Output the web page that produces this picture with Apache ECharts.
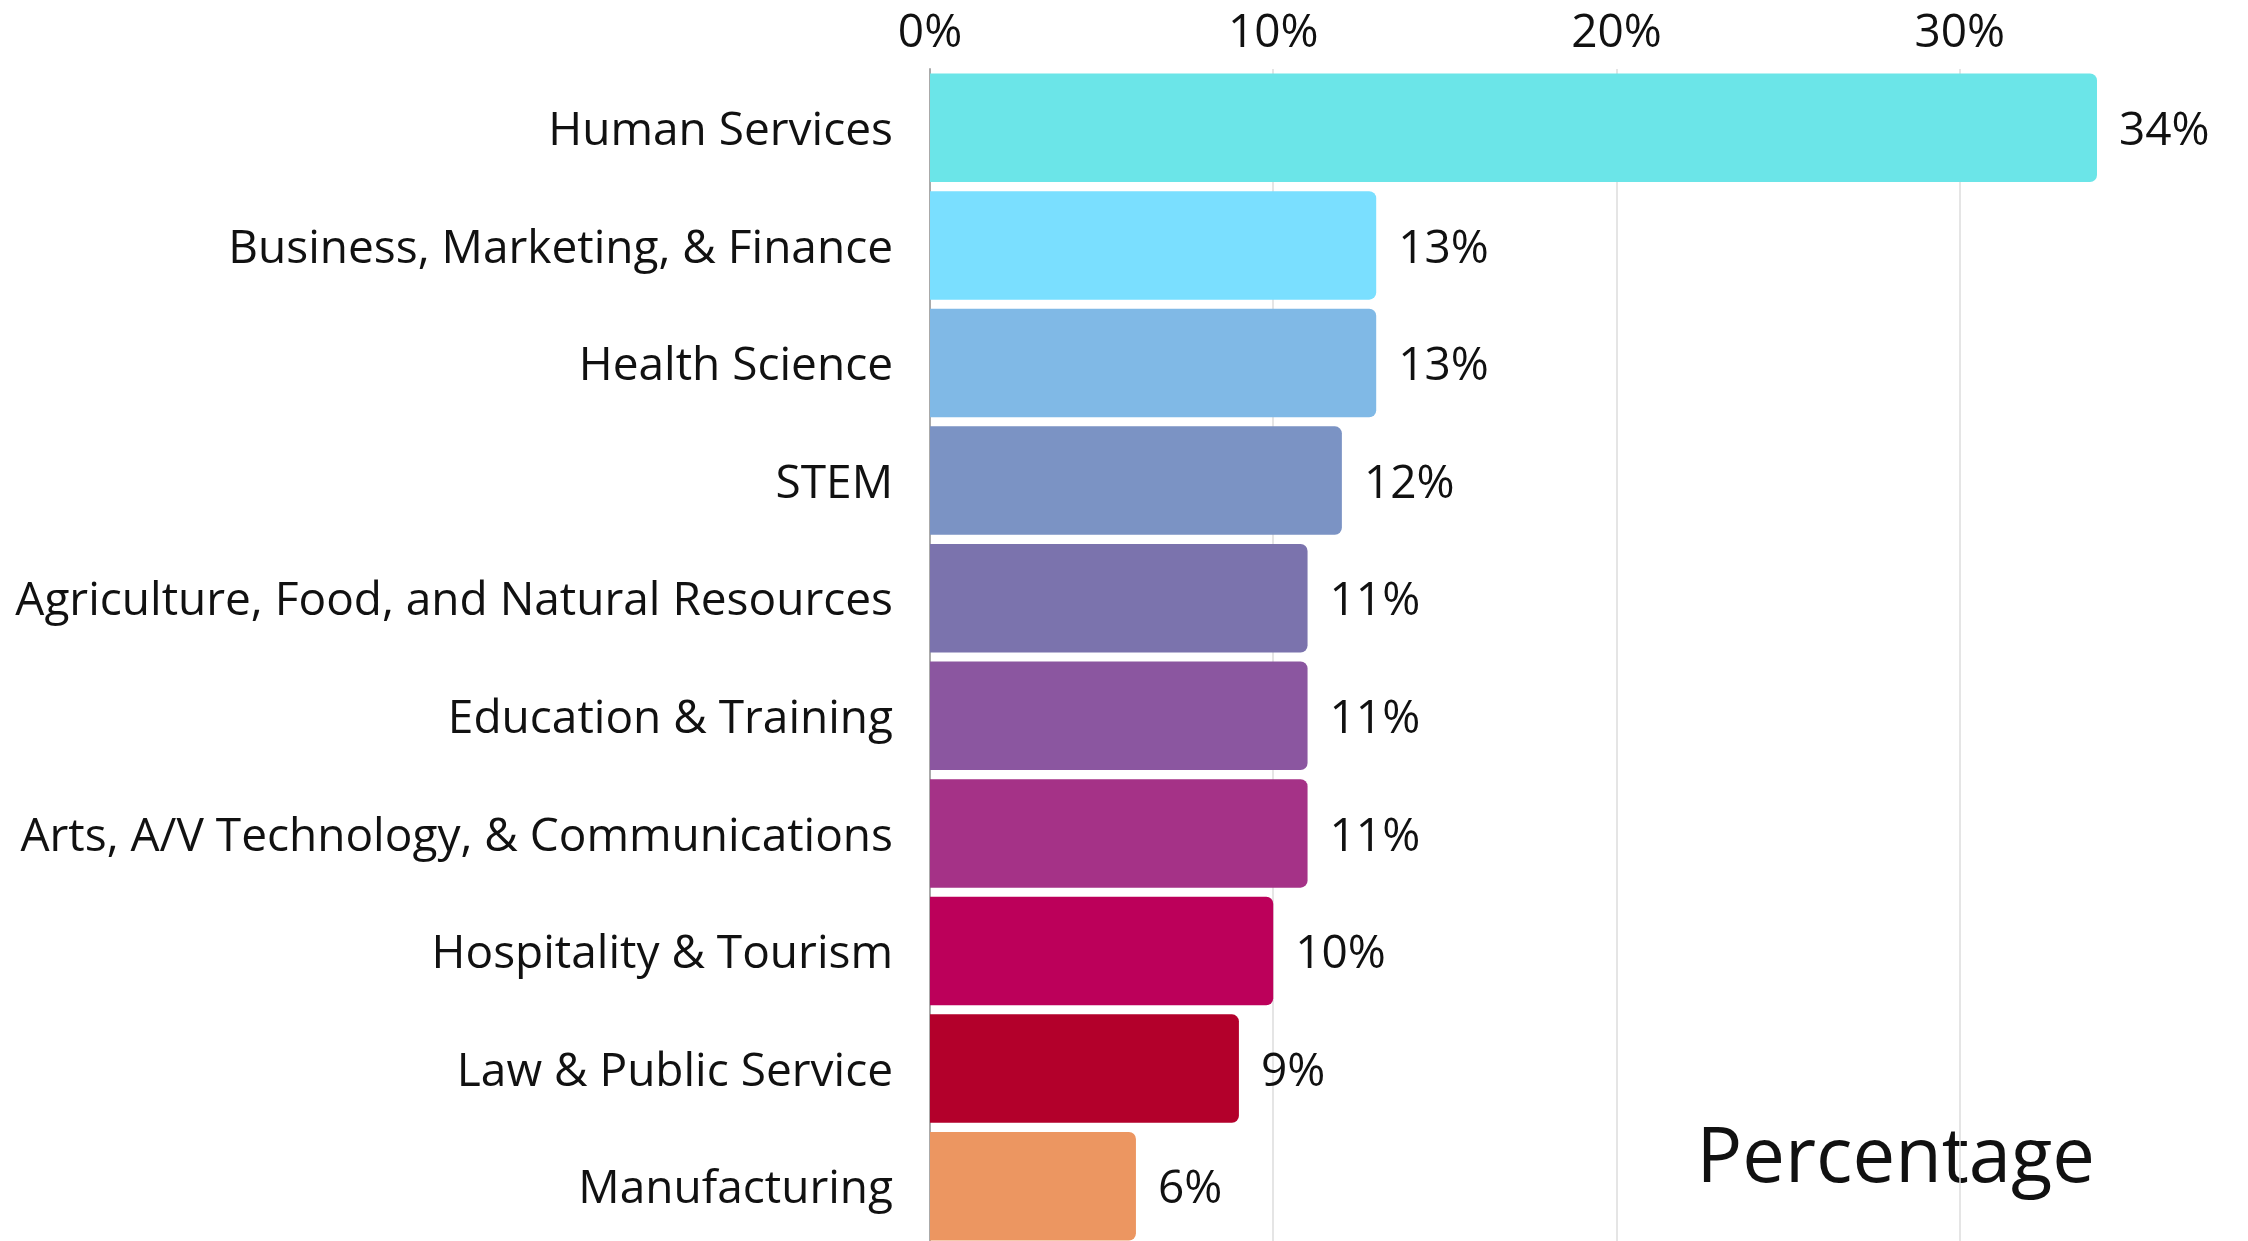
<!DOCTYPE html>
<html>
<head>
<meta charset="utf-8">
<script src="https://cdn.jsdelivr.net/npm/echarts@6/dist/echarts.min.js"></script>
<style>
html, body { margin: 0; padding: 0; background: #fff; }
#main { width: 2248px; height: 1241px; }
</style>
</head>
<body>
<div id="main"></div>
<script>
// categories top to bottom
var categories = ['Human Services', 'Business, Marketing, & Finance', 'Health Science', 'STEM',
	'Agriculture, Food, and Natural Resources', 'Education & Training',
	'Arts, A/V Technology, & Communications', 'Hospitality & Tourism',
	'Law & Public Service', 'Manufacturing'];
var values = [34, 13, 13, 12, 11, 11, 11, 10, 9, 6];
var barColors = ['#6be5e8', '#7adfff', '#80b9e6', '#7b93c4', '#7b73ad',
	'#8b56a0', '#a53287', '#bc005a', '#b3002b', '#ec9661'];
var tickStep = 10;

var myChart = echarts.init(document.getElementById('main'));

var seriesData = [];
for (var i = 0; i < values.length; i++) {
	seriesData.push({ value: values[i], itemStyle: { color: barColors[i] } });
}

var option = {
	animation: false,
	textStyle: { fontFamily: 'Open Sans' },
	grid: { left: 930, right: 151, top: 69, bottom: -4, outerBoundsMode: 'none', containLabel: false },
	xAxis: {
		type: 'value',
		position: 'top',
		min: 0,
		max: 34,
		interval: tickStep,
		axisLine: { show: false },
		axisTick: { show: false },
		axisLabel: {
			formatter: '{value}%',
			fontSize: 46,
			color: '#111',
			margin: 12,
			showMaxLabel: false
		},
		splitLine: { show: true, showMaxLine: false, lineStyle: { color: '#dcdcdc', width: 1.5 } }
	},
	yAxis: {
		type: 'category',
		data: categories,
		inverse: true,
		axisLine: { show: true, lineStyle: { color: '#aaa', width: 2 } },
		axisTick: { show: false },
		axisLabel: {
			margin: 37,
			formatter: function (v) { return '{t|' + v + '}'; },
			rich: { t: { fontSize: 46, color: '#111', fontFamily: 'Open Sans', padding: [8, 0, 0, 0] } }
		}
	},
	series: [{
		type: 'bar',
		data: seriesData,
		barCategoryGap: '7.7%',
		itemStyle: { borderRadius: [0, 7, 7, 0] },
		label: {
			show: true,
			position: 'right',
			distance: 22,
			offset: [0, 4],
			formatter: '{c}%',
			fontSize: 46,
			color: '#111'
		}
	}],
	graphic: [{
		type: 'text',
		right: 153,
		top: 1122,
		style: { text: 'Percentage', fontSize: 76, fill: '#111', fontFamily: 'Open Sans' }
	}]
};

//为echarts对象加载数据
myChart.setOption(option);
window.onresize = myChart.resize;
</script>
</body>
</html>
